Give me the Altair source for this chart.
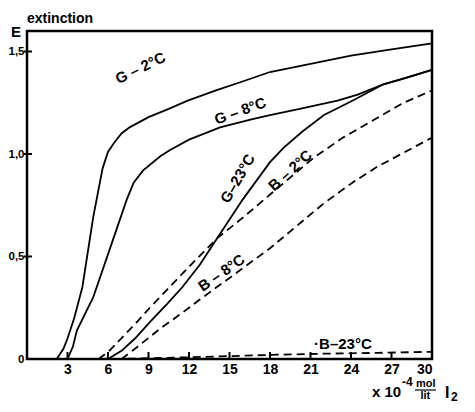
import altair as alt
import pandas as pd

# ---- data ----
g2_x = [2.2, 2.7, 3.0, 3.5, 4.1, 4.9, 5.6, 6.0, 6.4, 7.0, 7.6, 9.0, 10.5, 11.9, 14.0, 15.8, 18.0, 21.0, 24.0, 27.0, 30.0]
g2_y = [0.0, 0.05, 0.1, 0.2, 0.35, 0.69, 0.93, 1.01, 1.05, 1.10, 1.13, 1.18, 1.22, 1.26, 1.31, 1.35, 1.40, 1.44, 1.48, 1.51, 1.54]

g8_x = [3.0, 3.4, 3.7, 4.9, 6.1, 7.4, 7.9, 8.6, 9.9, 10.6, 12.0, 14.3, 16.7, 18.0, 20.2, 23.0, 24.5, 26.4, 28.0, 30.0]
g8_y = [0.0, 0.06, 0.14, 0.30, 0.53, 0.78, 0.86, 0.92, 0.99, 1.02, 1.07, 1.13, 1.17, 1.19, 1.22, 1.26, 1.29, 1.34, 1.37, 1.41]

g23_x = [6.0, 7.0, 8.0, 9.1, 10.4, 11.5, 12.8, 14.1, 15.0, 16.0, 17.0, 18.0, 19.0, 20.4, 22.0, 24.1, 26.4, 28.0, 30.0]
g23_y = [0.0, 0.04, 0.10, 0.18, 0.27, 0.35, 0.46, 0.59, 0.68, 0.78, 0.87, 0.96, 1.03, 1.11, 1.19, 1.26, 1.34, 1.37, 1.41]

b2_x = [5.3, 6.1, 8.0, 9.1, 10.4, 12.0, 14.1, 16.0, 18.5, 21.2, 23.4, 25.0, 27.9, 30.0]
b2_y = [0.0, 0.04, 0.17, 0.25, 0.34, 0.45, 0.59, 0.69, 0.83, 0.98, 1.08, 1.14, 1.25, 1.31]

b8_x = [7.0, 8.0, 9.9, 11.6, 12.8, 15.3, 18.0, 20.0, 22.0, 24.1, 26.0, 28.0, 30.0]
b8_y = [0.0, 0.05, 0.15, 0.23, 0.29, 0.41, 0.54, 0.65, 0.76, 0.86, 0.94, 1.01, 1.08]

b23_x = [6.5, 10.0, 14.0, 18.0, 22.0, 26.0, 30.0]
b23_y = [0.0, 0.005, 0.012, 0.02, 0.026, 0.03, 0.035]

label_text = ["G – 2°C", "G – 8°C", "G–23°C", "B – 2°C", "B – 8°C", "·B–23°C"]
label_x = [8.4, 15.8, 15.6, 19.5, 14.4, 23.4]
label_y = [1.42, 1.21, 0.88, 0.92, 0.42, 0.075]
label_angle = [334, 340, 300, 318, 325, 0]

x_ticks = [3, 6, 9, 12, 15, 18, 21, 24, 27, 30]
y_ticks = [0, 0.5, 1.0, 1.5]

FONT = "Liberation Sans"

rows = []
for name, xs_, ys_, style in [
    ("G-2", g2_x, g2_y, "solid"), ("G-8", g8_x, g8_y, "solid"), ("G-23", g23_x, g23_y, "solid"),
    ("B-2", b2_x, b2_y, "dashed"), ("B-8", b8_x, b8_y, "dashed"), ("B-23", b23_x, b23_y, "dashed"),
]:
    for i, (a, b) in enumerate(zip(xs_, ys_)):
        rows.append({"series": name, "x": a, "y": b, "style": style, "order": i})
df = pd.DataFrame(rows)

xs = alt.Scale(domain=[0, 30], nice=False, zero=False)
ys = alt.Scale(domain=[0, 1.6], nice=False)

xaxis = alt.Axis(values=x_ticks, ticks=False, grid=False, domain=False, labelFont=FONT,
                 labelFontSize=14, labelFontWeight="bold", labelColor="black", labelPadding=3, title=None)
yaxis = alt.Axis(values=y_ticks, ticks=False, grid=False, domain=False,
                 labelFont=FONT, labelFontSize=11.5, labelFontWeight="bold", labelColor="black", labelPadding=3,
                 labelExpr="datum.value == 0 ? '0' : replace(format(datum.value, '.1f'), '.', ',')", title=None)

base = alt.Chart(df)
solid = base.transform_filter(alt.datum.style == "solid").mark_line(color="black", strokeWidth=1.8).encode(
    x=alt.X("x:Q", scale=xs, axis=xaxis),
    y=alt.Y("y:Q", scale=ys, axis=yaxis),
    detail="series:N", order="order:Q")
dashed = base.transform_filter(alt.datum.style == "dashed").mark_line(
    color="black", strokeWidth=1.8, strokeDash=[8, 5]).encode(
    x=alt.X("x:Q", scale=xs), y=alt.Y("y:Q", scale=ys), detail="series:N", order="order:Q")

lab_df = pd.DataFrame({"t": label_text, "x": label_x, "y": label_y, "a": label_angle})
labels = alt.Chart(lab_df).mark_text(font=FONT, fontSize=15, fontWeight="bold", color="black",
                                      align="center", baseline="middle").encode(
    x=alt.X("x:Q", scale=xs), y=alt.Y("y:Q", scale=ys), text="t:N",
    angle=alt.Angle("a:Q", scale=None))

tick_df = pd.DataFrame({"x": x_ticks})
xticks = alt.Chart(tick_df).mark_rule(color="black", strokeWidth=2).encode(
    x=alt.X("x:Q", scale=xs), y=alt.value(328), y2=alt.value(321))
ytick_df = pd.DataFrame({"y": y_ticks[1:]})
yticks = alt.Chart(ytick_df).mark_rule(color="black", strokeWidth=2).encode(
    y=alt.Y("y:Q", scale=ys), x=alt.value(-3), x2=alt.value(5))

ann_df = pd.DataFrame({
    "t": ["extinction", "E", "x 10", "-4", "mol", "lit", "I", "2"],
    "px": [0, -16, 345, 375, 389, 393.5, 418, 424],
    "py": [-12, 1, 361, 351, 353, 365, 362, 366],
    "fs": [14, 15, 15, 12, 11, 11, 16, 12],
})
ann = alt.Chart(ann_df).mark_text(font=FONT, fontWeight="bold", color="black", align="left",
                                   baseline="middle").encode(
    x=alt.X("px:Q", scale=None), y=alt.Y("py:Q", scale=None), text="t:N",
    size=alt.Size("fs:Q", scale=None))
frac = alt.Chart(pd.DataFrame({"a": [0]})).mark_rule(color="black", strokeWidth=1.2).encode(
    x=alt.value(388), x2=alt.value(409), y=alt.value(359))

chart = alt.layer(solid, dashed, labels, xticks, yticks, ann, frac).properties(
    width=405, height=328, autosize="none",
    padding={"left": 19, "top": 23, "right": 35, "bottom": 45},
).configure_view(stroke="black", strokeWidth=2.5)

chart.save("out.html", embed_options={"renderer": "svg", "actions": False})
